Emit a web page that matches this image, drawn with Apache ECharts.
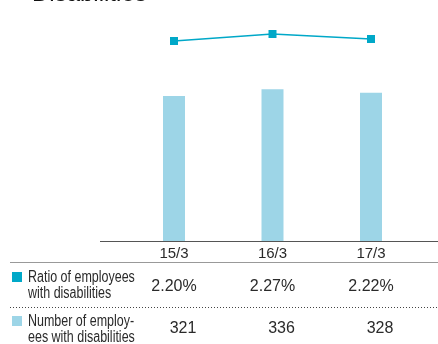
<!DOCTYPE html>
<html>
<head>
<meta charset="utf-8">
<script src="https://cdn.jsdelivr.net/npm/echarts@6/dist/echarts.min.js"></script>
<style>
  html, body { margin: 0; padding: 0; background: #fff; }
  #chart { width: 438px; height: 344px; }
</style>
</head>
<body>
<div id="chart"></div>
<script>
// Fiscal year-ends shown on the category axis
const periods = ['15/3', '16/3', '17/3'];
// Ratio of employees with disabilities (%)
const ratioValues = [2.20, 2.27, 2.22];
// Number of employees with disabilities
const countValues = [321, 336, 328];

const lineColor = '#00a8c8';
const barColor = '#9dd5e7';
const textColor = '#2a2a2a';
const fontFamily = '"Liberation Sans", Arial, sans-serif';

const chart = echarts.init(document.getElementById('chart'));

const hiddenAxisParts = {
  axisLine: { show: false },
  axisTick: { show: false },
  splitLine: { show: false }
};

chart.setOption({
  animation: false,
  backgroundColor: '#fff',
  grid: { left: 124.75, right: 17.75, top: 20, bottom: 103 },
  xAxis: [
    {
      type: 'category',
      data: periods,
      ...hiddenAxisParts,
      axisLabel: { color: textColor, fontSize: 15, fontFamily, margin: 5 }
    },
    {
      type: 'category',
      data: periods,
      position: 'bottom',
      offset: 30,
      ...hiddenAxisParts,
      axisLabel: {
        color: textColor, fontSize: 16, fontFamily, margin: 8,
        formatter: (v, i) => ratioValues[i].toFixed(2) + '%'
      }
    },
    {
      type: 'category',
      data: periods,
      position: 'bottom',
      offset: 72,
      ...hiddenAxisParts,
      axisLabel: {
        color: textColor, fontSize: 16, fontFamily, margin: 8,
        // counts sit flush right under the percentages
        padding: [0, 0, 0, 18],
        formatter: (v, i) => String(countValues[i])
      }
    }
  ],
  yAxis: [
    { type: 'value', min: 0, max: 489, show: false },
    { type: 'value', min: 0.2, max: 2.41, show: false }
  ],
  series: [
    {
      name: 'Number of employees with disabilities',
      type: 'bar',
      data: countValues,
      barWidth: 22,
      yAxisIndex: 0,
      itemStyle: { color: barColor }
    },
    {
      name: 'Ratio of employees with disabilities',
      type: 'line',
      data: ratioValues,
      yAxisIndex: 1,
      symbol: 'rect',
      symbolSize: 8,
      lineStyle: { color: lineColor, width: 1.5 },
      itemStyle: { color: lineColor }
    }
  ],
  graphic: [
    {
      type: 'text', left: 32, top: -18,
      style: { text: 'Disabilities', fill: '#111', font: '24px ' + fontFamily }
    },
    // baseline of the chart area
    {
      type: 'line', shape: { x1: 100, y1: 241.5, x2: 438, y2: 241.5 },
      style: { stroke: '#555', lineWidth: 1 }
    },
    // table rules
    {
      type: 'line', shape: { x1: 10, y1: 262.5, x2: 438, y2: 262.5 },
      style: { stroke: '#999', lineWidth: 1 }
    },
    {
      type: 'line', shape: { x1: 10, y1: 307.5, x2: 438, y2: 307.5 },
      style: { stroke: '#444', lineWidth: 1, lineDash: [1, 2] }
    },
    // row keys
    {
      type: 'rect', shape: { x: 12, y: 272, width: 10, height: 10 },
      style: { fill: lineColor }
    },
    {
      type: 'text', x: 28, y: 270, scaleX: 0.78,
      style: { text: 'Ratio of employees\nwith disabilities', fill: textColor, font: '16px ' + fontFamily, lineHeight: 16 }
    },
    {
      type: 'rect', shape: { x: 12, y: 316, width: 10, height: 10 },
      style: { fill: barColor }
    },
    {
      type: 'text', x: 28, y: 314, scaleX: 0.78,
      style: { text: 'Number of employ-\nees with disabilities', fill: textColor, font: '16px ' + fontFamily, lineHeight: 16 }
    }
  ]
});
</script>
</body>
</html>
